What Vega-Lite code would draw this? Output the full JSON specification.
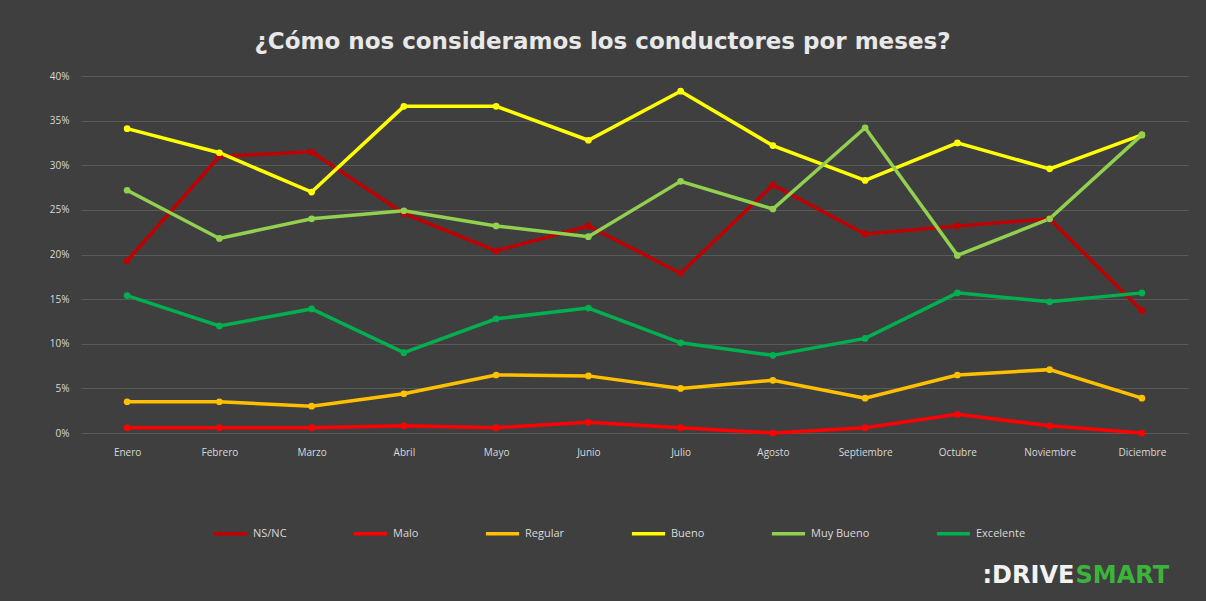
{
  "$schema": "https://vega.github.io/schema/vega-lite/v6.json",
  "width": 1107,
  "height": 357,
  "autosize": {"type": "none"},
  "padding": {"left": 81, "top": 76, "right": 18, "bottom": 168},
  "background": "#3f3f3f",
  "title": {
    "text": "¿Cómo nos consideramos los conductores por meses?",
    "color": "#e8e8e8",
    "font": "DejaVu Sans",
    "fontSize": 23,
    "fontWeight": "bold",
    "anchor": "middle",
    "dx": -32,
    "offset": 17
  },
  "config": {
    "view": {"stroke": null},
    "axis": {"labelFont": "Open Sans", "labelColor": "#d9d9d9", "labelFontSize": 10, "ticks": false, "domain": false}
  },
  "data": {
    "values": [
      {"mes": "Enero", "serie": "NS/NC", "valor": 0.193},
      {"mes": "Febrero", "serie": "NS/NC", "valor": 0.310},
      {"mes": "Marzo", "serie": "NS/NC", "valor": 0.315},
      {"mes": "Abril", "serie": "NS/NC", "valor": 0.246},
      {"mes": "Mayo", "serie": "NS/NC", "valor": 0.204},
      {"mes": "Junio", "serie": "NS/NC", "valor": 0.232},
      {"mes": "Julio", "serie": "NS/NC", "valor": 0.179},
      {"mes": "Agosto", "serie": "NS/NC", "valor": 0.278},
      {"mes": "Septiembre", "serie": "NS/NC", "valor": 0.223},
      {"mes": "Octubre", "serie": "NS/NC", "valor": 0.232},
      {"mes": "Noviembre", "serie": "NS/NC", "valor": 0.240},
      {"mes": "Diciembre", "serie": "NS/NC", "valor": 0.137},
      {"mes": "Enero", "serie": "Malo", "valor": 0.006},
      {"mes": "Febrero", "serie": "Malo", "valor": 0.006},
      {"mes": "Marzo", "serie": "Malo", "valor": 0.006},
      {"mes": "Abril", "serie": "Malo", "valor": 0.008},
      {"mes": "Mayo", "serie": "Malo", "valor": 0.006},
      {"mes": "Junio", "serie": "Malo", "valor": 0.012},
      {"mes": "Julio", "serie": "Malo", "valor": 0.006},
      {"mes": "Agosto", "serie": "Malo", "valor": 0.0},
      {"mes": "Septiembre", "serie": "Malo", "valor": 0.006},
      {"mes": "Octubre", "serie": "Malo", "valor": 0.021},
      {"mes": "Noviembre", "serie": "Malo", "valor": 0.008},
      {"mes": "Diciembre", "serie": "Malo", "valor": 0.0},
      {"mes": "Enero", "serie": "Regular", "valor": 0.035},
      {"mes": "Febrero", "serie": "Regular", "valor": 0.035},
      {"mes": "Marzo", "serie": "Regular", "valor": 0.030},
      {"mes": "Abril", "serie": "Regular", "valor": 0.044},
      {"mes": "Mayo", "serie": "Regular", "valor": 0.065},
      {"mes": "Junio", "serie": "Regular", "valor": 0.064},
      {"mes": "Julio", "serie": "Regular", "valor": 0.050},
      {"mes": "Agosto", "serie": "Regular", "valor": 0.059},
      {"mes": "Septiembre", "serie": "Regular", "valor": 0.039},
      {"mes": "Octubre", "serie": "Regular", "valor": 0.065},
      {"mes": "Noviembre", "serie": "Regular", "valor": 0.071},
      {"mes": "Diciembre", "serie": "Regular", "valor": 0.039},
      {"mes": "Enero", "serie": "Bueno", "valor": 0.341},
      {"mes": "Febrero", "serie": "Bueno", "valor": 0.314},
      {"mes": "Marzo", "serie": "Bueno", "valor": 0.270},
      {"mes": "Abril", "serie": "Bueno", "valor": 0.366},
      {"mes": "Mayo", "serie": "Bueno", "valor": 0.366},
      {"mes": "Junio", "serie": "Bueno", "valor": 0.328},
      {"mes": "Julio", "serie": "Bueno", "valor": 0.383},
      {"mes": "Agosto", "serie": "Bueno", "valor": 0.322},
      {"mes": "Septiembre", "serie": "Bueno", "valor": 0.283},
      {"mes": "Octubre", "serie": "Bueno", "valor": 0.325},
      {"mes": "Noviembre", "serie": "Bueno", "valor": 0.296},
      {"mes": "Diciembre", "serie": "Bueno", "valor": 0.334},
      {"mes": "Enero", "serie": "Muy Bueno", "valor": 0.272},
      {"mes": "Febrero", "serie": "Muy Bueno", "valor": 0.218},
      {"mes": "Marzo", "serie": "Muy Bueno", "valor": 0.240},
      {"mes": "Abril", "serie": "Muy Bueno", "valor": 0.249},
      {"mes": "Mayo", "serie": "Muy Bueno", "valor": 0.232},
      {"mes": "Junio", "serie": "Muy Bueno", "valor": 0.220},
      {"mes": "Julio", "serie": "Muy Bueno", "valor": 0.282},
      {"mes": "Agosto", "serie": "Muy Bueno", "valor": 0.251},
      {"mes": "Septiembre", "serie": "Muy Bueno", "valor": 0.342},
      {"mes": "Octubre", "serie": "Muy Bueno", "valor": 0.199},
      {"mes": "Noviembre", "serie": "Muy Bueno", "valor": 0.240},
      {"mes": "Diciembre", "serie": "Muy Bueno", "valor": 0.334},
      {"mes": "Enero", "serie": "Excelente", "valor": 0.154},
      {"mes": "Febrero", "serie": "Excelente", "valor": 0.120},
      {"mes": "Marzo", "serie": "Excelente", "valor": 0.139},
      {"mes": "Abril", "serie": "Excelente", "valor": 0.090},
      {"mes": "Mayo", "serie": "Excelente", "valor": 0.128},
      {"mes": "Junio", "serie": "Excelente", "valor": 0.140},
      {"mes": "Julio", "serie": "Excelente", "valor": 0.101},
      {"mes": "Agosto", "serie": "Excelente", "valor": 0.087},
      {"mes": "Septiembre", "serie": "Excelente", "valor": 0.106},
      {"mes": "Octubre", "serie": "Excelente", "valor": 0.157},
      {"mes": "Noviembre", "serie": "Excelente", "valor": 0.147},
      {"mes": "Diciembre", "serie": "Excelente", "valor": 0.157}
    ]
  },
  "resolve": {"axis": {"x": "independent"}},
  "layer": [
    {
      "mark": {"type": "line", "strokeWidth": 3.5},
      "encoding": {
        "x": {
          "field": "mes", "type": "nominal", "sort": null,
          "scale": {"type": "point", "padding": 0.5},
          "axis": {
            "orient": "bottom", "labelAngle": 0, "labelPadding": 14, "grid": false,
            "title": ":DRIVE", "titleColor": "#f2f2f2", "titleFont": "DejaVu Sans", "titleFontSize": 24, "titleFontWeight": "bold",
            "titleAnchor": "start", "titleAlign": "left", "titleBaseline": "middle", "titleX": 901, "titleY": 142
          }
        },
        "y": {
          "field": "valor", "type": "quantitative",
          "scale": {"domain": [0, 0.4]},
          "axis": {
            "title": null, "format": ".0%", "values": [0, 0.05, 0.1, 0.15, 0.2, 0.25, 0.3, 0.35, 0.4],
            "grid": true, "gridColor": "#595959", "gridWidth": 1, "labelPadding": 12
          }
        },
        "color": {
          "field": "serie", "type": "nominal",
          "scale": {
            "domain": ["NS/NC", "Malo", "Regular", "Bueno", "Muy Bueno", "Excelente"],
            "range": ["#C00000", "#FF0000", "#FFC000", "#FFFF00", "#92D050", "#00B050"]
          },
          "legend": {
            "title": null, "orient": "none", "direction": "horizontal", "legendX": 131, "legendY": 439,
            "symbolType": "stroke", "symbolStrokeWidth": 3.5, "symbolSize": 1100, "columnPadding": 59,
            "labelColor": "#d9d9d9", "labelFont": "Open Sans", "labelFontSize": 11, "labelOffset": 4
          }
        }
      }
    },
    {
      "mark": {"type": "point", "filled": true, "size": 45, "opacity": 1},
      "encoding": {
        "x": {
          "field": "mes", "type": "nominal", "sort": null,
          "scale": {"type": "point", "padding": 0.5},
          "axis": {
            "orient": "bottom", "labels": false, "grid": false,
            "title": "SMART", "titleColor": "#3cb43c", "titleFont": "DejaVu Sans", "titleFontSize": 24, "titleFontWeight": "bold",
            "titleAnchor": "start", "titleAlign": "left", "titleBaseline": "middle", "titleX": 994, "titleY": 142
          }
        },
        "y": {"field": "valor", "type": "quantitative"},
        "color": {"field": "serie", "type": "nominal"}
      }
    }
  ]
}
